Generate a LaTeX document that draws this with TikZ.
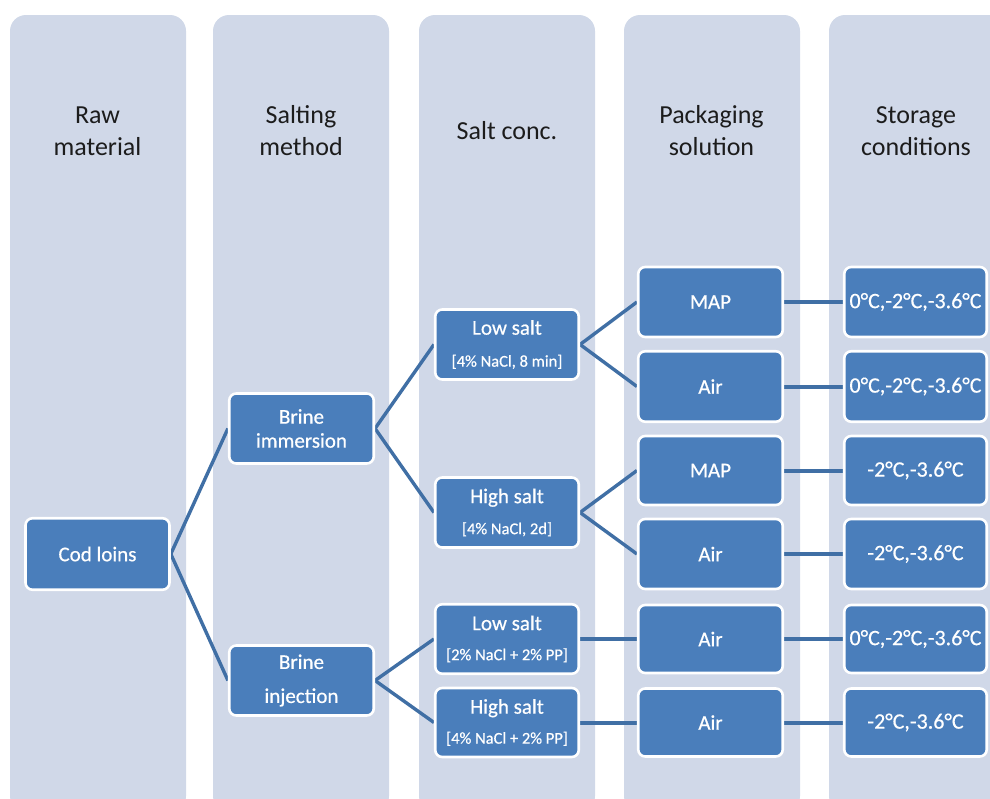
\documentclass[tikz,border=0pt]{standalone}
\usepackage{fontspec}
\setmainfont{Carlito}
% box captions: Carlito, slightly emboldened
\newfontfamily\boxfont{Carlito}[BoldFont=Carlito, BoldFeatures={FakeBold=0.5}]

\definecolor{colbg}{RGB}{208,216,232}
\definecolor{boxblue}{RGB}{74,126,187}
\definecolor{linkblue}{RGB}{64,111,165}
\definecolor{headtext}{RGB}{28,28,28}

\pgfdeclarelayer{columns}
\pgfdeclarelayer{links}
\pgfsetlayers{columns,links,main}

% smaller second line inside the salt boxes
\newcommand\subline[1]{{\fontsize{16.5}{\baselineskip}\selectfont #1}}

\tikzset{
  stage/.style={fill=colbg, rounded corners=16pt},
  head/.style={font=\fontsize{26}{32}\selectfont, text=headtext, align=center},
  item/.style={fill=boxblue, draw=white, line width=2.6pt, rounded corners=7pt,
    text=white, align=center, inner sep=0pt,
    minimum width=144pt, minimum height=70pt,
    font=\boxfont\bfseries\fontsize{21}{24}\selectfont},
  temp/.style={item, minimum width=142.5pt, font=\boxfont\bfseries\fontsize{22}{24}\selectfont},
  link/.style={draw=linkblue, line width=3.4pt},
  straight/.style={draw=linkblue, line width=4pt},
}

\begin{document}
\begin{tikzpicture}[x=1pt,y=-1pt]
\useasboundingbox (0,0) rectangle (990,798);

% stage columns
\begin{pgfonlayer}{columns}
  \foreach \l in {10,213,419,624,829}
    \fill[stage] (\l,812) -- (\l,15) -- ({\l+176},15) -- ({\l+176},812) -- cycle;
\end{pgfonlayer}

% column headings
\node[head] (h1) at (97.5,131) {Raw\\material};
\node[head] (h2) at (301,131) {Salting\\method};
\node[head] (h3) at (507,131) {Salt conc.};
\node[head] (h4) at (711.5,131) {Packaging\\solution};
\node[head] (h5) at (916,131) {Storage\\conditions};

% raw material
\node[item, minimum height=71.5pt] (cod) at (97.5,554) {Cod loins};

% salting method
\node[item, minimum width=144.5pt] (imm) at (301.5,428.5) {Brine\\immersion};
\node[item, minimum width=144.5pt, font=\boxfont\bfseries\fontsize{21}{34}\selectfont] (inj) at (301.5,680.5) {Brine\\injection};

% salt concentration
\node[item, minimum width=143.5pt, font=\boxfont\bfseries\fontsize{21}{32}\selectfont] (low1) at (507,344.5)
  {Low salt\\\subline{[4\% NaCl, 8 min]}};
\node[item, minimum width=143.5pt, font=\boxfont\bfseries\fontsize{21}{31}\selectfont] (high1) at (507,512.5)
  {High salt\\\subline{[4\% NaCl, 2d]}};
\node[item, minimum width=143.5pt, minimum height=69.5pt, font=\boxfont\bfseries\fontsize{21}{30}\selectfont] (low2) at (507,639)
  {Low salt\\\subline{[2\% NaCl + 2\% PP]}};
\node[item, minimum width=143.5pt, minimum height=69pt, font=\boxfont\bfseries\fontsize{21}{30}\selectfont] (high2) at (507,722.5)
  {High salt\\\subline{[4\% NaCl + 2\% PP]}};

% packaging solution
\node[item, minimum width=144.5pt] (map1) at (710.5,302) {MAP};
\node[item, minimum width=144.5pt, minimum height=70.5pt] (air1) at (710.5,386.5) {Air};
\node[item, minimum width=144.5pt, minimum height=69pt] (map2) at (710.5,470.5) {MAP};
\node[item, minimum width=144.5pt] (air2) at (710.5,554) {Air};
\node[item, minimum width=144.5pt, minimum height=68pt] (air3) at (710.5,639) {Air};
\node[item, minimum width=144.5pt, minimum height=68pt] (air4) at (710.5,722.5) {Air};

% storage conditions
\node[temp] (t1) at (915.5,302) {0°C,-2°C,-3.6°C};
\node[temp, minimum height=70.5pt] (t2) at (915.5,386.5) {0°C,-2°C,-3.6°C};
\node[temp, minimum height=69pt] (t3) at (915.5,470.5) {-2°C,-3.6°C};
\node[temp] (t4) at (915.5,554) {-2°C,-3.6°C};
\node[temp, minimum height=68pt] (t5) at (915.5,639) {0°C,-2°C,-3.6°C};
\node[temp, minimum height=68pt] (t6) at (915.5,722.5) {-2°C,-3.6°C};

% connectors
\begin{pgfonlayer}{links}
  \draw[link] (cod.east) -- (imm.west);
  \draw[link] (cod.east) -- (inj.west);
  \draw[link] (imm.east) -- (low1.west);
  \draw[link] (imm.east) -- (high1.west);
  \draw[link] (inj.east) -- (low2.west);
  \draw[link] (inj.east) -- (high2.west);
  \draw[link] (low1.east) -- (map1.west);
  \draw[link] (low1.east) -- (air1.west);
  \draw[link] (high1.east) -- (map2.west);
  \draw[link] (high1.east) -- (air2.west);
  \draw[straight] (low2) -- (air3);
  \draw[straight] (high2) -- (air4);
  \draw[straight] (map1) -- (t1);
  \draw[straight] (air1) -- (t2);
  \draw[straight] (map2) -- (t3);
  \draw[straight] (air2) -- (t4);
  \draw[straight] (air3) -- (t5);
  \draw[straight] (air4) -- (t6);
\end{pgfonlayer}
\end{tikzpicture}
\end{document}
